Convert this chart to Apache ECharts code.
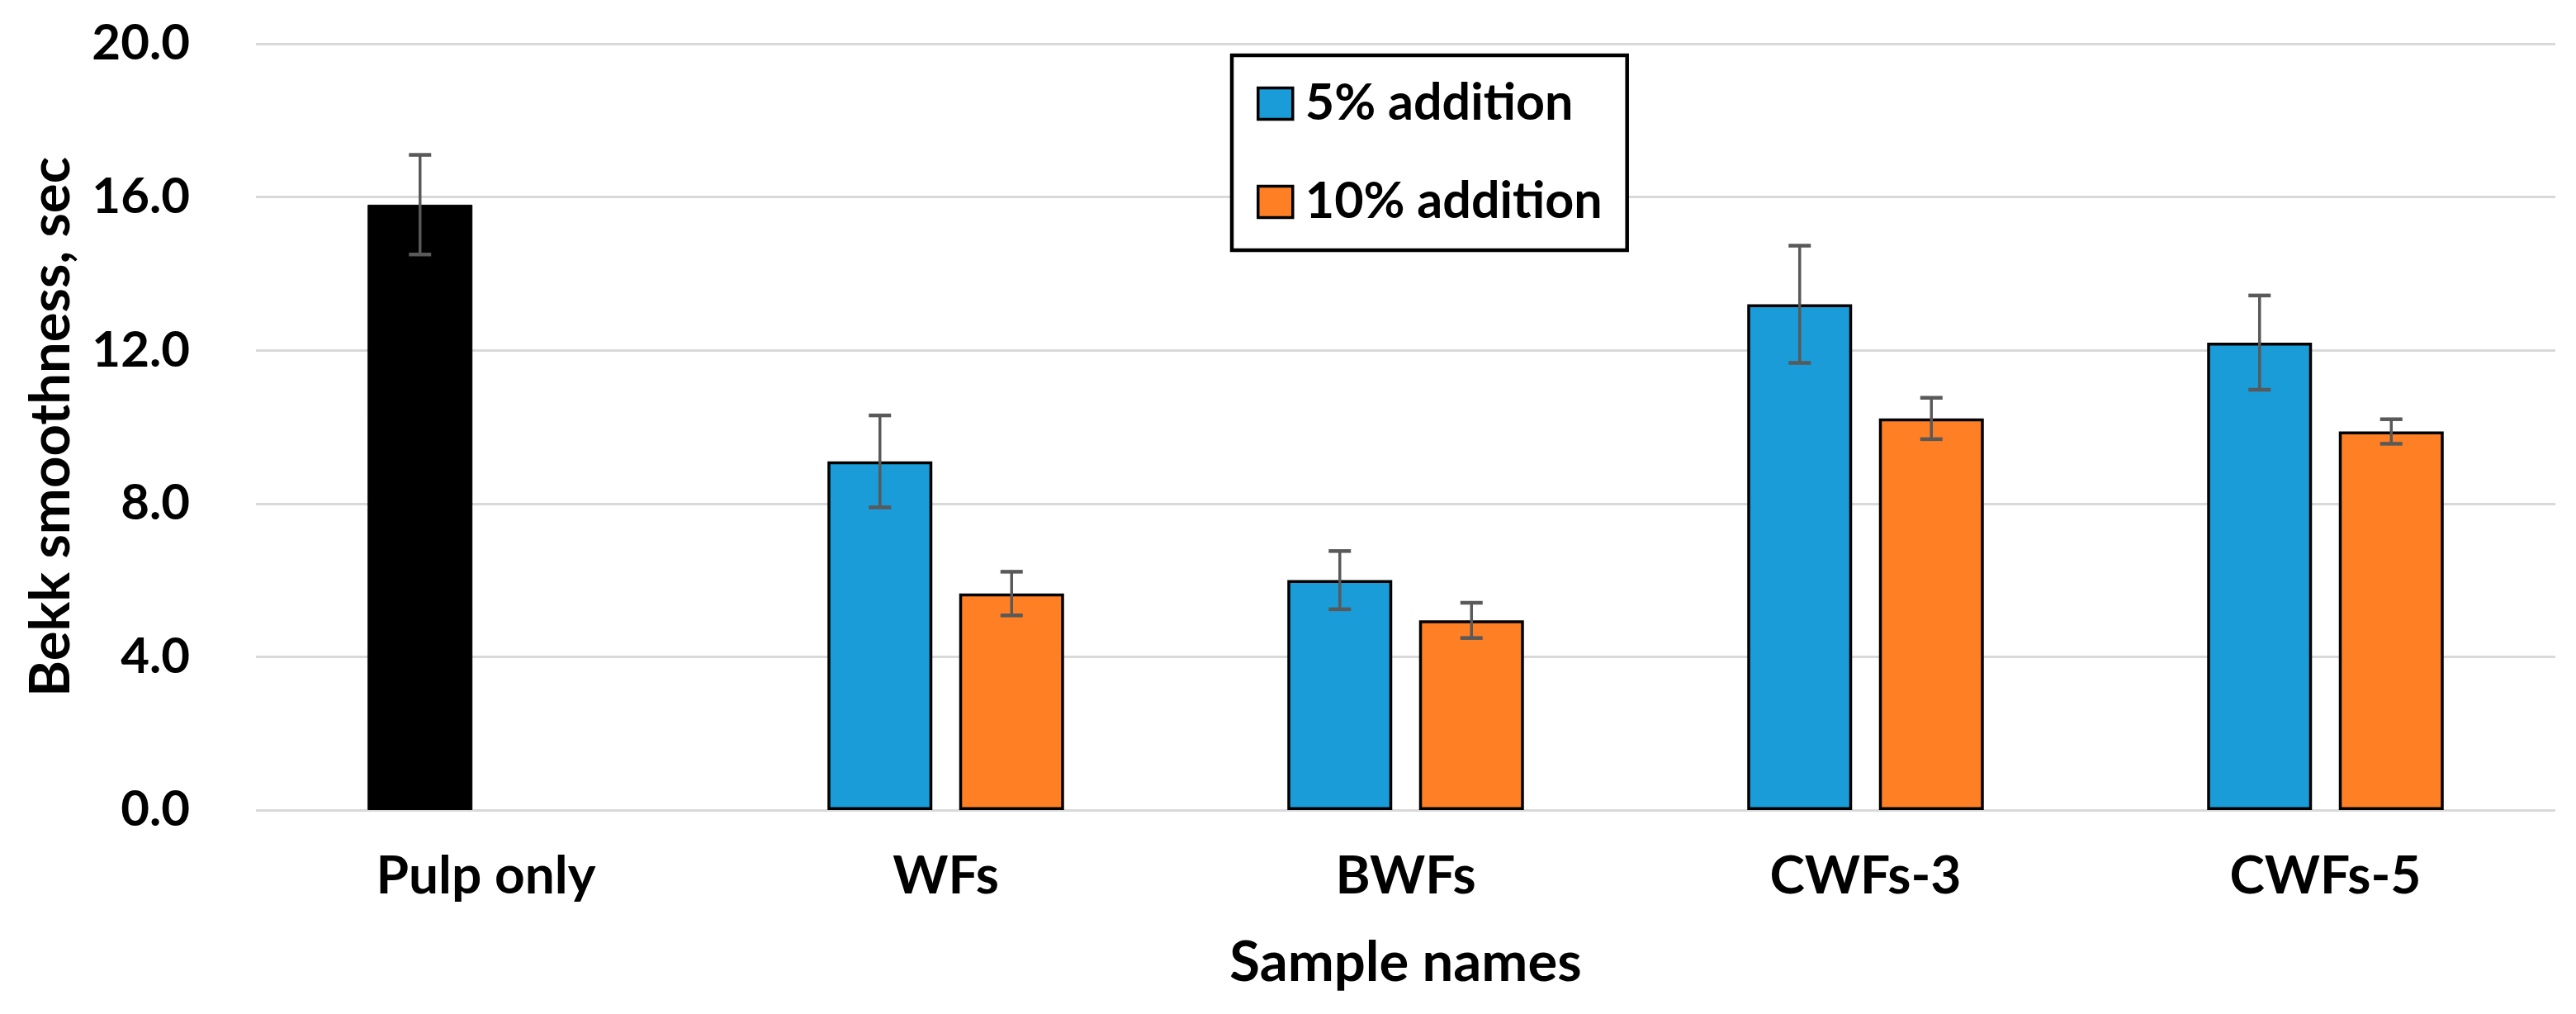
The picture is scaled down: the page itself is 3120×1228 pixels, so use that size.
<!DOCTYPE html>
<html>
<head>
<meta charset="utf-8">
<script src="https://cdn.jsdelivr.net/npm/echarts@6/dist/echarts.min.js"></script>
<style>
  html, body { margin: 0; padding: 0; background: #fff; }
  #chart { width: 3120px; height: 1228px; }
</style>
</head>
<body>
<div id="chart"></div>
<script>
// ---- data ----
const categories = ['Pulp only', 'WFs', 'BWFs', 'CWFs-3', 'CWFs-5'];
const seriesNames = ['5% addition', '10% addition'];
const add5 = [15.8, 9.1, 6.0, 13.2, 12.2];
const add5Err = [1.3, 1.2, 0.76, 1.53, 1.23];
const add10 = [null, 5.65, 4.95, 10.22, 9.88];
const add10Err = [null, 0.57, 0.46, 0.54, 0.32];
const yTicks = [0, 4, 8, 12, 16, 20];

// ---- style ----
const FONT = 'Lato';
const BAR_W = 127;
const BAR_GAP = 0.256;
const BLUE = '#199CD8';
const ORANGE = '#FF7F24';
const ERR_COLOR = '#595959';

const chart = echarts.init(document.getElementById('chart'), null, { renderer: 'canvas' });

function errData(means, errs, sign) {
  const out = [];
  means.forEach((m, i) => {
    if (m != null && errs[i] != null) out.push([i, m - errs[i], m + errs[i], sign]);
  });
  return out;
}

function renderErr(params, api) {
  const idx = api.value(0);
  const lo = api.coord([idx, api.value(1)]);
  const hi = api.coord([idx, api.value(2)]);
  const sign = api.value(3);
  const off = sign * (BAR_W * (1 + BAR_GAP)) / 2;
  const x = lo[0] + off;
  const cap = 13.5;
  const style = { stroke: ERR_COLOR, lineWidth: 3.5 };
  return {
    type: 'group',
    children: [
      { type: 'line', shape: { x1: x, y1: lo[1], x2: x, y2: hi[1] }, style: style },
      { type: 'line', shape: { x1: x - cap, y1: lo[1], x2: x + cap, y2: lo[1] }, style: { stroke: ERR_COLOR, lineWidth: 4.5 } },
      { type: 'line', shape: { x1: x - cap, y1: hi[1], x2: x + cap, y2: hi[1] }, style: { stroke: ERR_COLOR, lineWidth: 4.5 } }
    ]
  };
}

const add5Data = add5.map((v, i) => i === 0
  ? { value: v, itemStyle: { color: '#000000', borderColor: '#000000', borderWidth: 1 } }
  : v);
const add10Data = add10.map(v => v == null ? '-' : v);

const option = {
  backgroundColor: '#ffffff',
  animation: false,
  grid: { left: 310, right: 25, top: 53, bottom: 247, containLabel: false },
  legend: {
    data: seriesNames,
    orient: 'vertical',
    left: 1492,
    top: 67,
    padding: [28, 30, 28, 30],
    itemGap: 58,
    itemWidth: 42,
    itemHeight: 38,
    borderColor: '#000000',
    borderWidth: 4.5,
    backgroundColor: '#ffffff',
    icon: 'rect',
    itemStyle: { borderColor: '#000000', borderWidth: 3.5 },
    textStyle: { fontFamily: FONT, fontWeight: 'bold', fontSize: 61, color: '#000', padding: [0, 0, 0, 10] }
  },
  xAxis: {
    type: 'category',
    data: categories,
    name: 'Sample names',
    nameLocation: 'middle',
    nameGap: 152,
    nameTextStyle: { fontFamily: FONT, fontWeight: 'bold', fontSize: 67, color: '#000' },
    axisLine: { show: false },
    axisTick: { show: false },
    axisLabel: { fontFamily: FONT, fontWeight: 'bold', fontSize: 64, color: '#000', margin: 48 }
  },
  yAxis: {
    type: 'value',
    min: yTicks[0],
    max: yTicks[yTicks.length - 1],
    interval: 4,
    name: 'Bekk smoothness, sec',
    nameLocation: 'middle',
    nameGap: 214,
    nameTextStyle: { fontFamily: FONT, fontWeight: 'bold', fontSize: 67, color: '#000' },
    axisLine: { show: false },
    axisTick: { show: false },
    axisLabel: {
      fontFamily: FONT, fontWeight: 'bold', fontSize: 60, color: '#000', margin: 80,
      formatter: v => v.toFixed(1)
    },
    splitLine: { lineStyle: { color: '#D9D9D9', width: 3 } }
  },
  series: [
    {
      name: seriesNames[0],
      type: 'bar',
      data: add5Data,
      barWidth: BAR_W,
      barGap: (BAR_GAP * 100) + '%',
      itemStyle: { color: BLUE, borderColor: '#000000', borderWidth: 3.5 },
      z: 2
    },
    {
      name: seriesNames[1],
      type: 'bar',
      data: add10Data,
      barWidth: BAR_W,
      barGap: (BAR_GAP * 100) + '%',
      itemStyle: { color: ORANGE, borderColor: '#000000', borderWidth: 3.5 },
      z: 2
    },
    {
      name: 'err5',
      type: 'custom',
      data: errData(add5, add5Err, -1),
      renderItem: renderErr,
      z: 5,
      silent: true
    },
    {
      name: 'err10',
      type: 'custom',
      data: errData(add10, add10Err, 1),
      renderItem: renderErr,
      z: 5,
      silent: true
    }
  ]
};

chart.setOption(option);
</script>
</body>
</html>
